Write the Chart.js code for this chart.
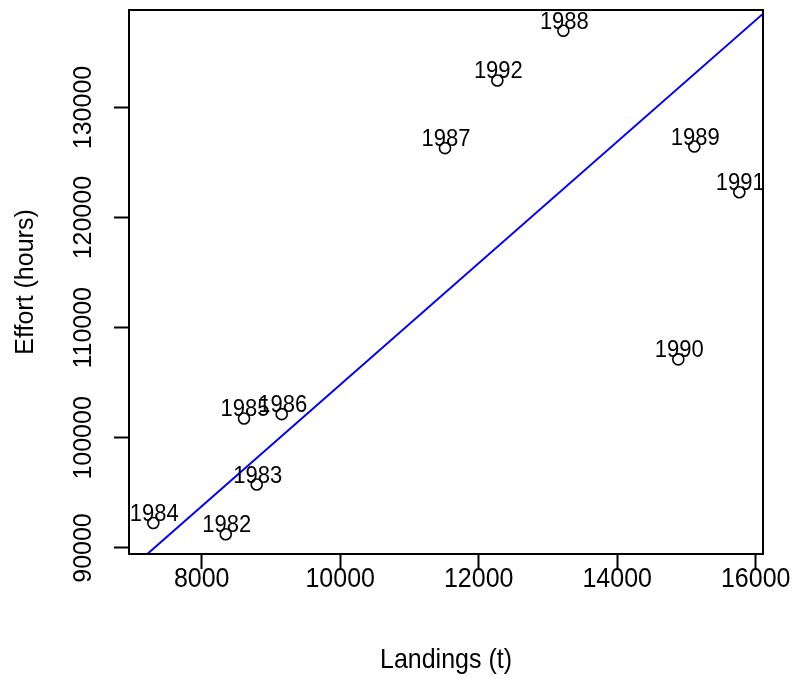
<!DOCTYPE html>
<html>
<head>
<meta charset="utf-8">
<script src="https://cdn.jsdelivr.net/npm/chart.js@4/dist/chart.umd.min.js"></script>
<style>
    html, body { margin: 0; padding: 0; background: #ffffff; }
    #wrap { width: 793px; height: 679px; }
</style>
</head>
<body>
<div id="wrap"><canvas id="chart" width="793" height="679"></canvas></div>
<script>
// Data
const years = ['1982', '1983', '1984', '1985', '1986', '1987', '1988', '1989', '1990', '1991', '1992'];
const landings = [8347, 8794, 7301, 8611, 9155, 11513, 13222, 15113, 14882, 15763, 12269];
const effort = [91245, 95764, 92273, 101764, 102155, 126309, 136973, 126455, 107127, 122309, 132455];

// Fitted line, given by two points along it
const fitX = [6900, 16200];
const fitY = [87722, 139042];

const xTicks = [8000, 10000, 12000, 14000, 16000];
const yTicks = [90000, 100000, 110000, 120000, 130000];

const FONT = "'Liberation Sans', Arial, sans-serif";

// Box around the plotting region
const boxPlugin = {
    id: 'box',
    afterDraw(chart) {
        const a = chart.chartArea;
        const ctx = chart.ctx;
        ctx.save();
        ctx.strokeStyle = '#000';
        ctx.lineWidth = 2;
        ctx.strokeRect(a.left, a.top, a.right - a.left, a.bottom - a.top);
        ctx.restore();
    }
};

// Tick labels and axis titles, R style
const axisText = {
    id: 'axisText',
    afterDraw(chart) {
        const ctx = chart.ctx;
        const xs = chart.scales.x, ys = chart.scales.y;
        const a = chart.chartArea;
        ctx.save();
        ctx.fillStyle = '#000';
        ctx.textAlign = 'center';
        ctx.textBaseline = 'middle';

        ctx.font = '25px ' + FONT;
        xTicks.forEach(v => {
            ctx.save();
            ctx.translate(xs.getPixelForValue(v), 579);
            ctx.scale(1, 1.12);
            ctx.fillText(String(v), 0, 0);
            ctx.restore();
        });
        yTicks.forEach(v => {
            ctx.save();
            ctx.translate(84, ys.getPixelForValue(v));
            ctx.rotate(-Math.PI / 2);
            ctx.fillText(String(v), 0, 0);
            ctx.restore();
        });

        ctx.save();
        ctx.translate((a.left + a.right) / 2, 660);
        ctx.scale(1, 1.12);
        ctx.fillText('Landings (t)', 0, 0);
        ctx.restore();

        ctx.save();
        ctx.translate(26, (a.top + a.bottom) / 2);
        ctx.rotate(-Math.PI / 2);
        ctx.fillText('Effort (hours)', 0, 0);
        ctx.restore();
        ctx.restore();
    }
};

// Year labels above each point
const yearLabels = {
    id: 'yearLabels',
    afterDatasetsDraw(chart) {
        const meta = chart.getDatasetMeta(0);
        const ctx = chart.ctx;
        ctx.save();
        ctx.font = '22px ' + FONT;
        ctx.fillStyle = '#000';
        ctx.textAlign = 'center';
        ctx.textBaseline = 'alphabetic';
        meta.data.forEach((pt, i) => {
            ctx.save();
            ctx.translate(pt.x + 1, pt.y - 2);
            ctx.scale(1, 1.1);
            ctx.fillText(years[i], 0, 0);
            ctx.restore();
        });
        ctx.restore();
    }
};

new Chart(document.getElementById('chart'), {
    type: 'scatter',
    data: {
        datasets: [{
            data: landings.map((v, i) => ({ x: v, y: effort[i] })),
            pointStyle: 'circle',
            pointRadius: 5.5,
            pointHoverRadius: 5.5,
            backgroundColor: '#ffffff',
            borderColor: '#000000',
            borderWidth: 1.6,
            order: 1
        }, {
            type: 'line',
            data: fitX.map((v, i) => ({ x: v, y: fitY[i] })),
            borderColor: '#0000ff',
            borderWidth: 2,
            pointRadius: 0,
            fill: false,
            order: 2
        }]
    },
    options: {
        responsive: false,
        animation: false,
        events: [],
        layout: { padding: { top: 10, right: 30, left: 0, bottom: 0 } },
        plugins: {
            legend: { display: false },
            tooltip: { enabled: false }
        },
        scales: {
            x: {
                type: 'linear',
                min: 6950,
                max: 16105,
                afterBuildTicks: s => { s.ticks = xTicks.map(v => ({ value: v })); },
                afterFit: s => { s.height = 125; s.paddingLeft = 0; s.paddingRight = 0; },
                border: { display: false },
                grid: { drawOnChartArea: false, drawTicks: true, tickLength: 15, tickWidth: 2, tickColor: '#000' },
                ticks: { display: false, autoSkip: false }
            },
            y: {
                type: 'linear',
                min: 89455,
                max: 138855,
                afterBuildTicks: s => { s.ticks = yTicks.map(v => ({ value: v })); },
                afterFit: s => { s.width = 129; s.paddingTop = 0; s.paddingBottom = 0; },
                border: { display: false },
                grid: { drawOnChartArea: false, drawTicks: true, tickLength: 15, tickWidth: 2, tickColor: '#000' },
                ticks: { display: false, autoSkip: false }
            }
        }
    },
    plugins: [boxPlugin, axisText, yearLabels]
});
</script>
</body>
</html>
